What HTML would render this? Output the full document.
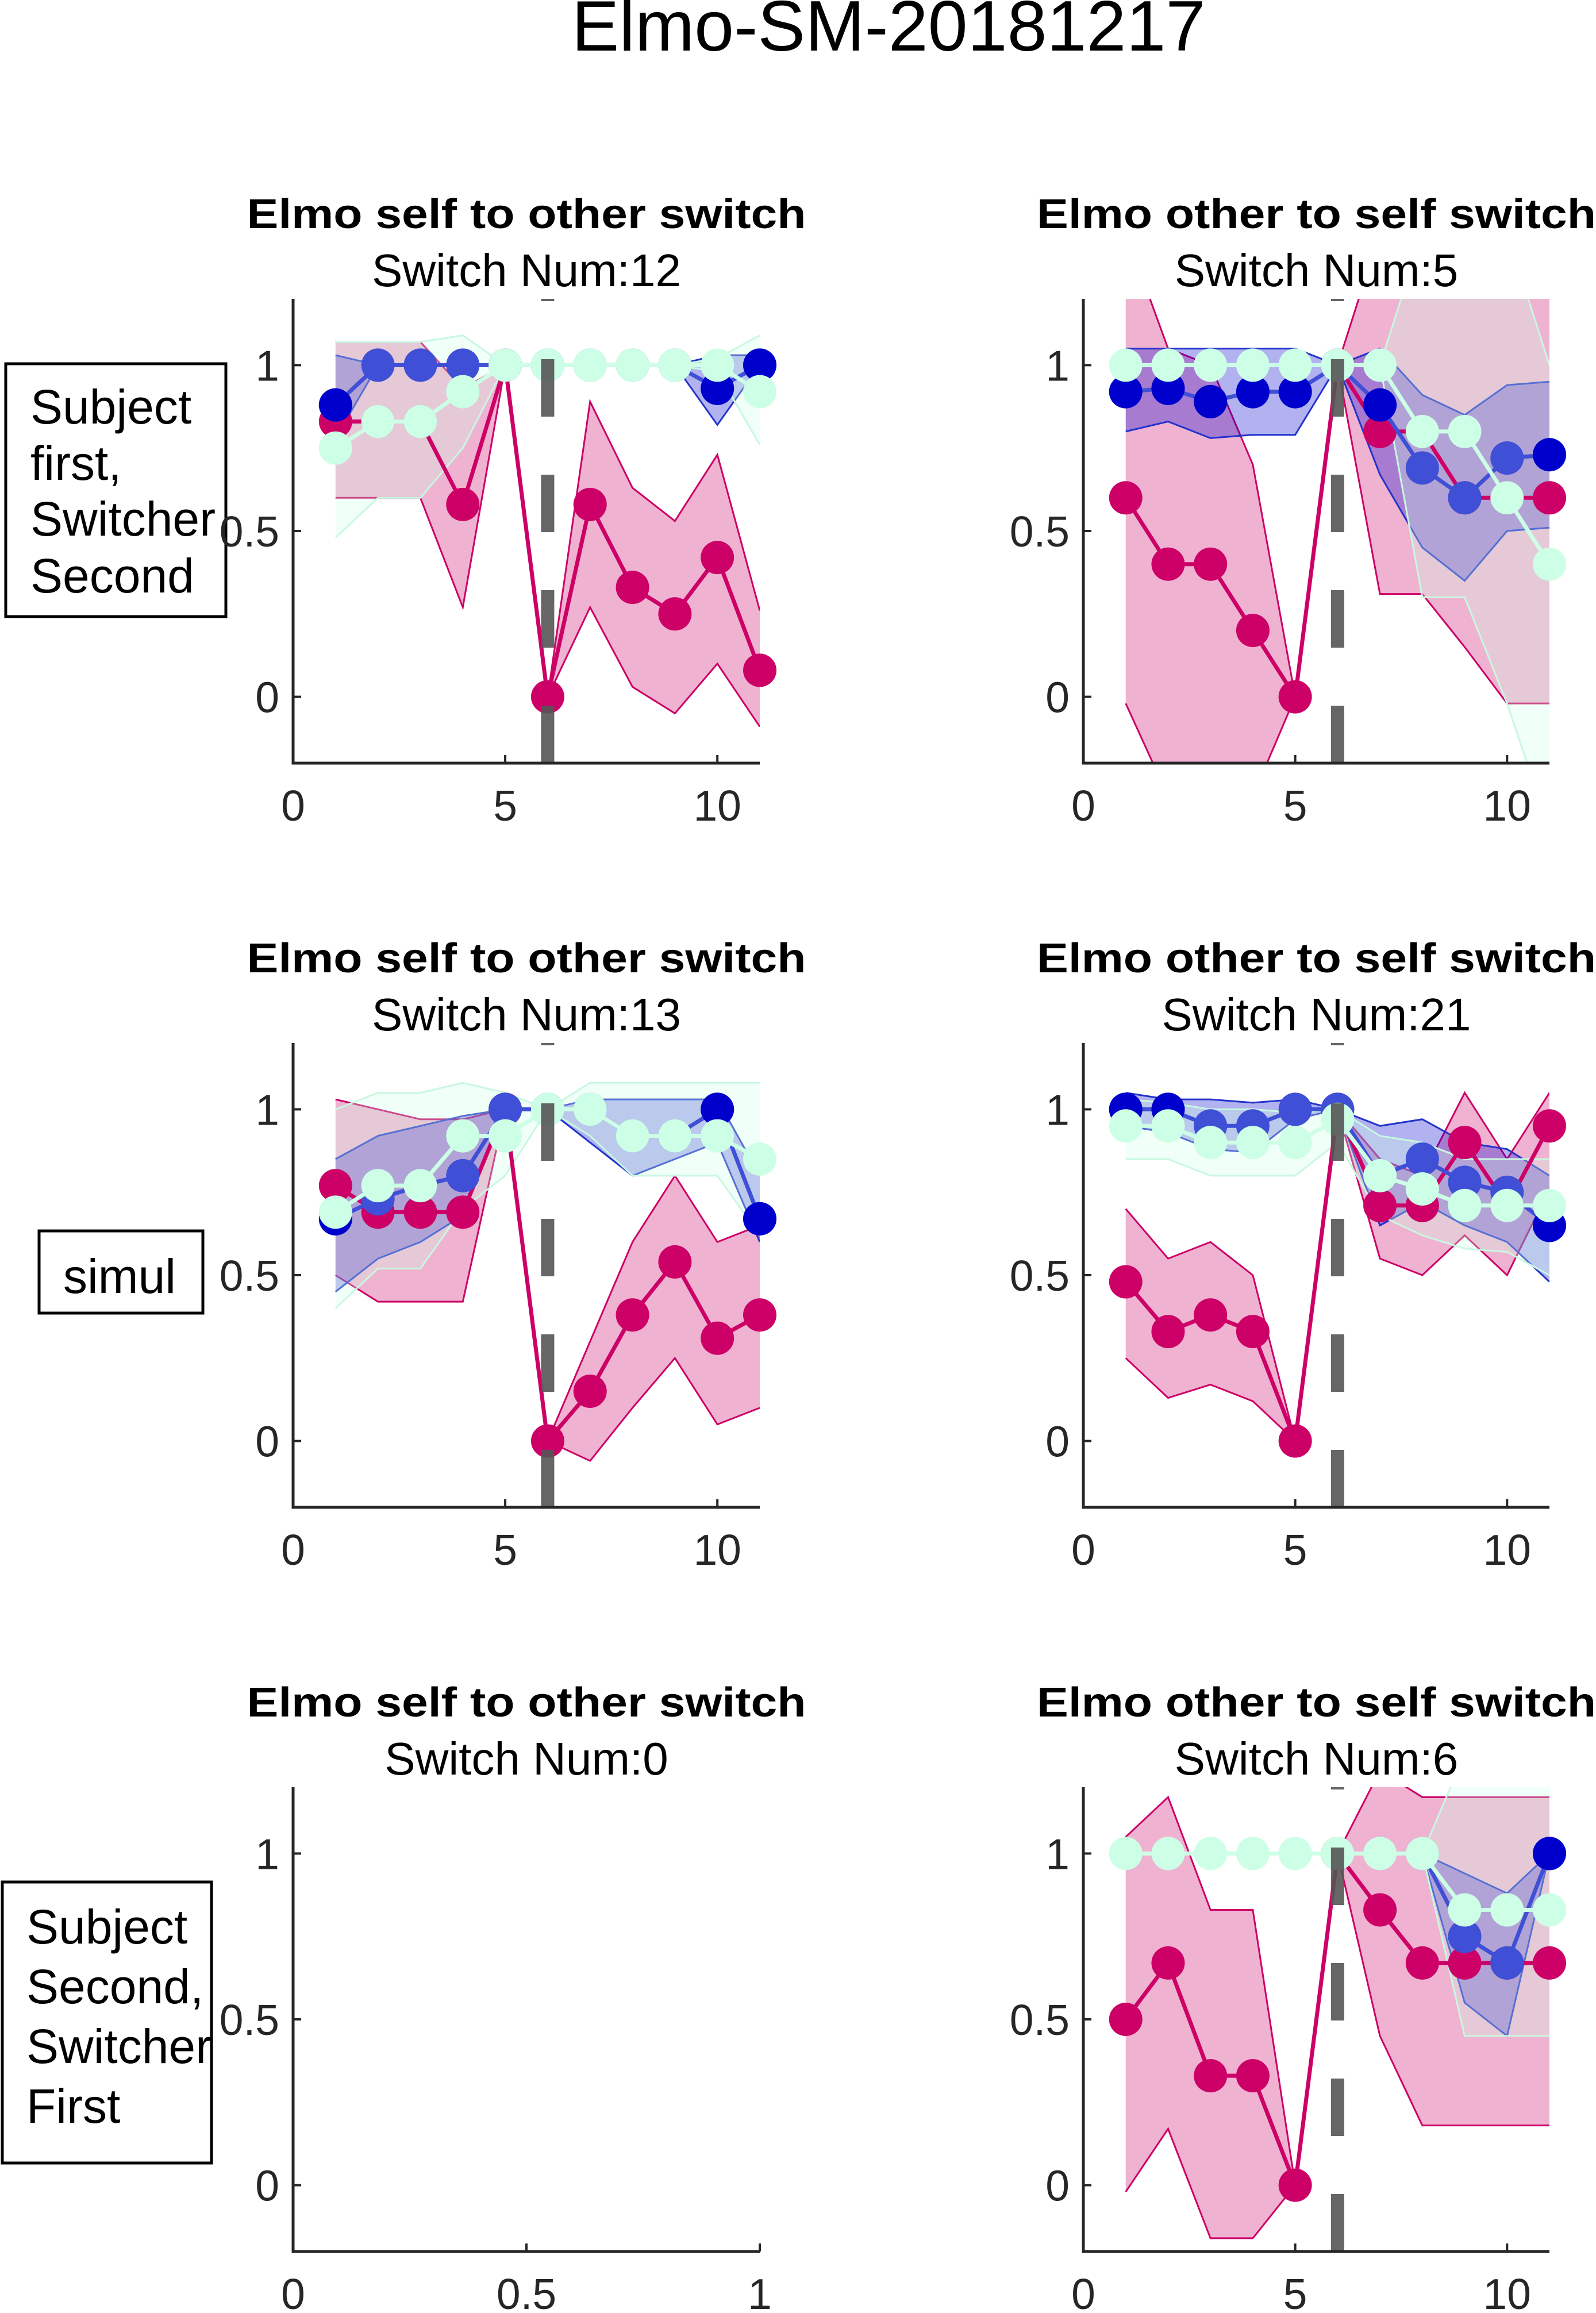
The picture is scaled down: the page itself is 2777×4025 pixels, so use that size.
<!DOCTYPE html>
<html><head><meta charset="utf-8">
<style>
html,body{margin:0;padding:0;background:#fff;}
svg{display:block;}
text{font-family:"Liberation Sans",Arial,sans-serif;}
</style></head>
<body>
<svg id="fig" width="2777" height="4025" viewBox="0 0 2777 4025" xmlns="http://www.w3.org/2000/svg">
<rect x="0" y="0" width="2777" height="4025" fill="#fff"/>
<text x="1546" y="88" font-size="124" text-anchor="middle" fill="#000">Elmo-SM-20181217</text>

<g>
<rect x="10" y="633" width="383" height="440" fill="none" stroke="#000" stroke-width="5"/>
<text x="53" y="737" font-size="84" fill="#000">Subject</text>
<text x="53" y="835" font-size="84" fill="#000">first,</text>
<text x="53" y="932" font-size="84" fill="#000">Switcher</text>
<text x="53" y="1031" font-size="84" fill="#000">Second</text>
</g>
<g>
<rect x="68" y="2142" width="285" height="143" fill="none" stroke="#000" stroke-width="5"/>
<text x="110" y="2250" font-size="84" fill="#000">simul</text>
</g>
<g>
<rect x="4" y="3275" width="364" height="489" fill="none" stroke="#000" stroke-width="5"/>
<text x="46" y="3382" font-size="84" fill="#000">Subject</text>
<text x="46" y="3486" font-size="84" fill="#000">Second,</text>
<text x="46" y="3590" font-size="84" fill="#000">Switcher</text>
<text x="46" y="3694" font-size="84" fill="#000">First</text>
</g>
<g id="panels"></g>
</svg>
<script>
// ---- data (x = 1..11) ----
const xCats = [1,2,3,4,5,6,7,8,9,10,11];
const switchX = 6;
const yTicks = [0, 0.5, 1];
const yTickLabels = ["0", "0.5", "1"];
const xTicks = [0, 5, 10];
const xTickLabels = ["0", "5", "10"];
const xTicksEmpty = [0, 0.5, 1];
const xTickLabelsEmpty = ["0", "0.5", "1"];
const panelTitles = ["Elmo self to other switch","Elmo other to self switch","Elmo self to other switch","Elmo other to self switch","Elmo self to other switch","Elmo other to self switch"];
const switchNums = [12, 5, 13, 21, 0, 6];

// panel 1
const p1Mag   = [0.83,0.83,0.83,0.58,1,0,0.58,0.33,0.25,0.42,0.08];
const p1MagHi = [1.07,1.07,1.07,0.93,1,0,0.89,0.63,0.53,0.73,0.26];
const p1MagLo = [0.6,0.6,0.6,0.27,1,0,0.27,0.03,-0.05,0.1,-0.09];
const p1Blu   = [0.88,1,1,1,1,1,1,1,1,0.93,1];
const p1BluHi = [1.03,1,1,1,1,1,1,1,1,1.03,1.03];
const p1BluLo = [0.78,1,1,1,1,1,1,1,1,0.82,1];
const p1Dark  = [0.88,null,null,null,null,null,null,null,null,0.93,1];
const p1Mint  = [0.75,0.83,0.83,0.92,1,1,1,1,1,1,0.92];
const p1MintHi= [1.07,1.07,1.07,1.09,1,1,1,1,1,1.02,1.09];
const p1MintLo= [0.48,0.6,0.6,0.75,1,1,1,1,1,0.98,0.76];
// panel 2
const p2Mag   = [0.6,0.4,0.4,0.2,0,1,0.8,0.8,0.6,0.6,0.6];
const p2MagHi = [1.4,1.05,1.0,0.7,0,1,1.4,1.4,1.4,1.4,1.4];
const p2MagLo = [-0.02,-0.3,-0.3,-0.3,0,1,0.31,0.31,0.15,-0.02,-0.02];
const p2Blu   = [0.92,0.93,0.89,0.92,0.92,1,0.88,0.69,0.6,0.72,0.73];
const p2BluHi = [1.05,1.05,1.05,1.05,1.05,1,1.05,0.91,0.85,0.94,0.95];
const p2BluLo = [0.8,0.83,0.78,0.79,0.79,1,0.67,0.45,0.35,0.5,0.51];
const p2Dark  = [0.92,0.93,0.89,0.92,0.92,null,0.88,null,null,null,0.73];
const p2Mint  = [1,1,1,1,1,1,1,0.8,0.8,0.6,0.4];
const p2MintHi= [1,1,1,1,1,1,1,1.4,1.4,1.4,1.0];
const p2MintLo= [1,1,1,1,1,1,1,0.3,0.3,-0.02,-0.4];
// panel 3
const p3Mag   = [0.77,0.69,0.69,0.69,1,0,0.15,0.38,0.54,0.31,0.38];
const p3MagHi = [1.03,1.0,0.97,0.97,1,0,0.3,0.6,0.8,0.6,0.65];
const p3MagLo = [0.5,0.42,0.42,0.42,1,0,-0.06,0.1,0.25,0.05,0.1];
const p3Blu   = [0.67,0.73,0.77,0.8,1,1,1,0.92,0.92,1,0.67];
const p3BluHi = [0.85,0.92,0.95,0.98,1,1,1.03,1.03,1.03,1.03,0.8];
const p3BluLo = [0.45,0.55,0.6,0.68,1,1,0.9,0.8,0.85,0.9,0.6];
const p3Dark  = [0.67,null,null,null,null,null,null,null,null,1,0.67];
const p3Mint  = [0.69,0.77,0.77,0.92,0.92,1,1,0.92,0.92,0.92,0.85];
const p3MintHi= [1.0,1.05,1.05,1.08,1.05,1,1.08,1.08,1.08,1.08,1.08];
const p3MintLo= [0.4,0.52,0.52,0.7,0.8,1,0.92,0.8,0.8,0.8,0.62];
// panel 4
const p4Mag   = [0.48,0.33,0.38,0.33,0,1,0.71,0.71,0.9,0.71,0.95];
const p4MagHi = [0.7,0.55,0.6,0.5,0,1,0.85,0.8,1.05,0.85,1.05];
const p4MagLo = [0.25,0.13,0.17,0.12,0,1,0.55,0.5,0.62,0.5,0.76];
const p4Blu   = [1,1,0.95,0.95,1,1,0.8,0.85,0.78,0.75,0.65];
const p4BluHi = [1.05,1.03,1.03,1.02,1.03,1,0.95,0.97,0.9,0.88,0.8];
const p4BluLo = [0.95,0.93,0.88,0.87,0.97,1,0.65,0.72,0.65,0.6,0.48];
const p4Dark  = [1,1,null,null,null,null,null,null,null,null,0.65];
const p4Mint  = [0.95,0.95,0.9,0.9,0.9,0.97,0.8,0.76,0.71,0.71,0.71];
const p4MintHi= [1.03,1.02,1,1,0.99,1,0.92,0.9,0.85,0.85,0.85];
const p4MintLo= [0.85,0.85,0.8,0.8,0.8,0.9,0.68,0.62,0.58,0.57,0.5];
// panel 6
const p6Mag   = [0.5,0.67,0.33,0.33,0,1,0.83,0.67,0.67,0.67,0.67];
const p6MagHi = [1.05,1.17,0.83,0.83,0,1,1.25,1.17,1.17,1.17,1.17];
const p6MagLo = [-0.02,0.17,-0.16,-0.16,0,1,0.45,0.18,0.18,0.18,0.18];
const p6Blu   = [null,null,null,null,null,null,null,1,0.75,0.67,1];
const p6BluHi = [null,null,null,null,null,null,null,1,0.94,0.88,1];
const p6BluLo = [null,null,null,null,null,null,null,1,0.55,0.45,1];
const p6Dark  = [null,null,null,null,null,null,null,null,null,null,1];
const p6Mint  = [1,1,1,1,1,1,1,1,0.83,0.83,0.83];
const p6MintHi= [null,null,null,null,null,null,null,1,1.3,1.3,1.3];
const p6MintLo= [null,null,null,null,null,null,null,1,0.45,0.45,0.45];

const NS = "http://www.w3.org/2000/svg";
const root = document.getElementById('panels');
const C = {mag:"#CC0066", blu:"#3F4FD6", dark:"#0000CC", mint:"#CCFFE6", magEdge:"#CC0066", bluEdge:"#2233CC", mintEdge:"#C8F8E0"};

function el(tag, attrs, parent){
  const e = document.createElementNS(NS, tag);
  for (const k in attrs) e.setAttribute(k, attrs[k]);
  parent.appendChild(e);
  return e;
}

const colsX = [[510,1322],[1885,2696]];
const rowsY = [[520,1328],[1815,2623],[3110,3918]];

function makePanel(idx, data){
  const col = idx % 2, row = Math.floor(idx/2);
  const [L,R] = colsX[col], [T,B] = rowsY[row];
  const xmin = 0, xmax = data ? 11 : 1;
  const xs = v => L + (v - xmin)/(xmax - xmin)*(R-L);
  const ys = v => B - (v + 0.2)/1.4*(B-T);
  const g = el('g', {}, root);
  
  
  const cid = 'clip'+idx;
  const defs = el('defs', {}, g);
  const cp = el('clipPath', {id:cid}, defs);
  el('rect', {x:L, y:T, width:R-L, height:B-T}, cp);

  const cx = (L+R)/2;
  const t1 = el('text', {x:cx, y:T-123, 'font-size':72, 'font-weight':'bold', 'text-anchor':'middle', fill:'#000', textLength:973, lengthAdjust:'spacingAndGlyphs'}, g);
  t1.textContent = panelTitles[idx];
  
  
  const t2 = el('text', {x:cx, y:T-22, 'font-size':80, 'text-anchor':'middle', fill:'#000'}, g);
  t2.textContent = 'Switch Num:' + switchNums[idx];
  
  

  const plot = el('g', {'clip-path':'url(#'+cid+')'}, g);
  const marks = el('g', {}, g);
  if (data){
    const band = (hi, lo, fill, edge, name) => {
      const idxs = xCats.map((_,i)=>i).filter(i=>hi[i]!==null && lo[i]!==null);
      const up = idxs.map(i=>xs(xCats[i])+','+ys(hi[i]));
      const dn = idxs.slice().reverse().map(i=>xs(xCats[i])+','+ys(lo[i]));
      const p = el('polygon', {points: up.concat(dn).join(' '), fill: fill, 'fill-opacity':0.3, stroke:'none'}, plot);
      
      
      el('polyline', {points: up.join(' '), fill:'none', stroke:edge, 'stroke-width':3}, plot);
      el('polyline', {points: idxs.map(i=>xs(xCats[i])+','+ys(lo[i])).join(' '), fill:'none', stroke:edge, 'stroke-width':3}, plot);
    };
    const series = (vals, color, name, drawLine) => {
      const idxs = xCats.map((_,i)=>i).filter(i=>vals[i]!==null);
      if (drawLine){
        const l = el('polyline', {points: idxs.map(i=>xs(xCats[i])+','+ys(vals[i])).join(' '), fill:'none', stroke:color, 'stroke-width':7, 'stroke-linejoin':'round'}, marks);
        
        
      }
      idxs.forEach(i=>{
        const c = el('circle', {cx: xs(xCats[i]), cy: ys(vals[i]), r: 29, fill: color}, marks);
        
        
      });
    };
    band(data.magHi, data.magLo, C.mag, C.magEdge, 'self');
    band(data.bluHi, data.bluLo, '#0000CC', C.bluEdge, 'other');
    band(data.mintHi, data.mintLo, C.mint, C.mintEdge, 'joint');
    series(data.mag, C.mag, 'self', true);
    series(data.blu, C.blu, 'other', true);
    series(data.dark, C.dark, 'other-dark', false);
    series(data.mint, C.mint, 'joint', true);
    const dg = el('g', {'clip-path':'url(#'+cid+')'}, g);
    const d = el('line', {x1: xs(switchX), x2: xs(switchX), y1: B, y2: T, stroke:'#555', 'stroke-opacity':0.9, 'stroke-width':23, 'stroke-dasharray':'100 101'}, dg);
    
    
  }
  // axes
  const ax = el('g', {}, g);
  
  
  el('polyline', {points: L+','+T+' '+L+','+B+' '+R+','+B, fill:'none', stroke:'#262626', 'stroke-width':5}, ax);
  yTicks.forEach((v,i)=>{
    el('line', {x1:L, x2:L+14, y1:ys(v), y2:ys(v), stroke:'#262626', 'stroke-width':4}, ax);
    const t = el('text', {x:L-24, y:ys(v)+27, 'font-size':75, 'text-anchor':'end', fill:'#262626'}, ax);
    t.textContent = yTickLabels[i];
    
    
  });
  const xt = data ? xTicks : xTicksEmpty, xl = data ? xTickLabels : xTickLabelsEmpty;
  xt.forEach((v,i)=>{
    el('line', {x1:xs(v), x2:xs(v), y1:B, y2:B-14, stroke:'#262626', 'stroke-width':4}, ax);
    const t = el('text', {x:xs(v), y:B+100, 'font-size':75, 'text-anchor':'middle', fill:'#262626'}, ax);
    t.textContent = xl[i];
    
    
  });
}

const panelsData = [
  {mag:p1Mag,magHi:p1MagHi,magLo:p1MagLo,blu:p1Blu,bluHi:p1BluHi,bluLo:p1BluLo,dark:p1Dark,mint:p1Mint,mintHi:p1MintHi,mintLo:p1MintLo},
  {mag:p2Mag,magHi:p2MagHi,magLo:p2MagLo,blu:p2Blu,bluHi:p2BluHi,bluLo:p2BluLo,dark:p2Dark,mint:p2Mint,mintHi:p2MintHi,mintLo:p2MintLo},
  {mag:p3Mag,magHi:p3MagHi,magLo:p3MagLo,blu:p3Blu,bluHi:p3BluHi,bluLo:p3BluLo,dark:p3Dark,mint:p3Mint,mintHi:p3MintHi,mintLo:p3MintLo},
  {mag:p4Mag,magHi:p4MagHi,magLo:p4MagLo,blu:p4Blu,bluHi:p4BluHi,bluLo:p4BluLo,dark:p4Dark,mint:p4Mint,mintHi:p4MintHi,mintLo:p4MintLo},
  null,
  {mag:p6Mag,magHi:p6MagHi,magLo:p6MagLo,blu:p6Blu,bluHi:p6BluHi,bluLo:p6BluLo,dark:p6Dark,mint:p6Mint,mintHi:p6MintHi,mintLo:p6MintLo}
];
panelsData.forEach((d,i)=>makePanel(i,d));
</script>
</body></html>
